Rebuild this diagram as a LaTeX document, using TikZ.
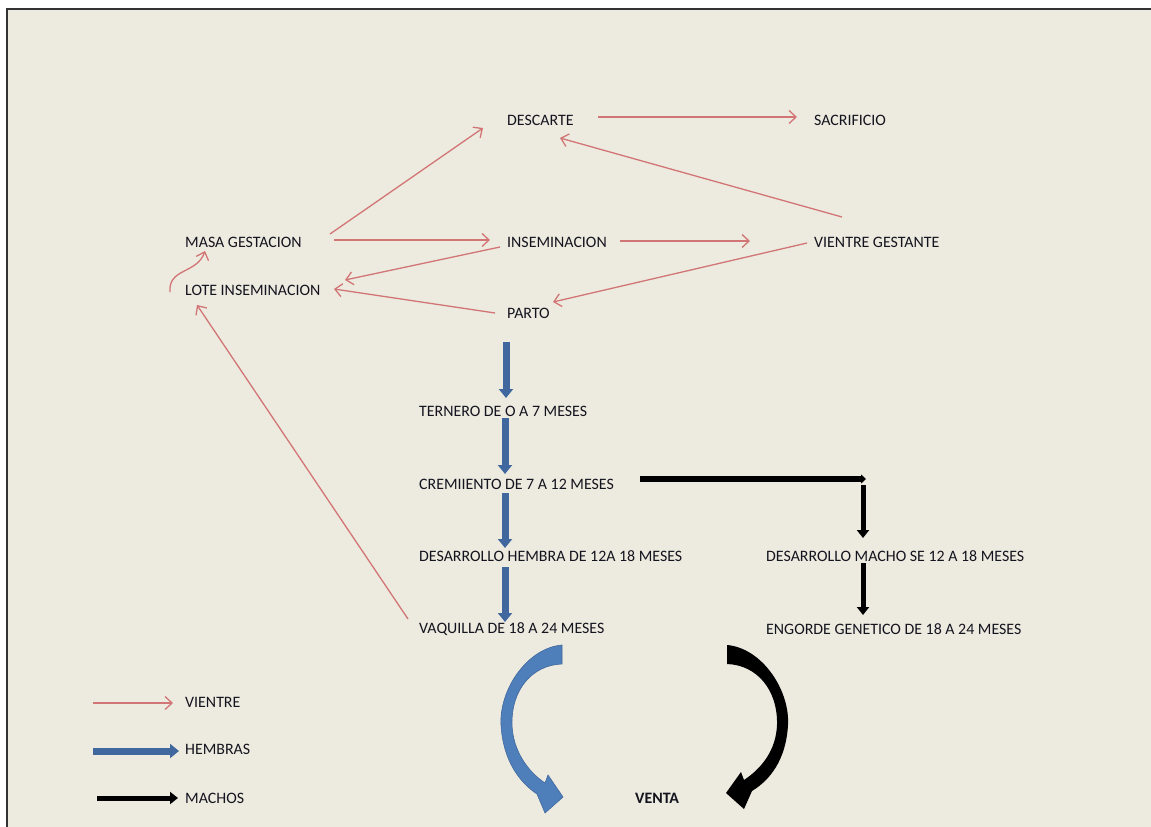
\documentclass[tikz,border=0pt]{standalone}
\usepackage{fontspec}
\setmainfont{Carlito}
\usetikzlibrary{arrows.meta,calc}
\definecolor{bg}{HTML}{EDEAE0}
\definecolor{vred}{HTML}{D27575}
\definecolor{hblue}{HTML}{41689E}
\definecolor{hblueL}{HTML}{4F7FBA}
\definecolor{txt}{HTML}{14141E}
\begin{document}
\begin{tikzpicture}[x=1pt,y=-1pt,
  lbl/.style={anchor=west,inner sep=0pt,font=\fontsize{15.9}{18}\selectfont,text=txt},
  vient/.style={draw=vred,line width=1.3pt,-{Straight Barb[length=7pt,width=13pt]}},
  hemb/.style={draw=hblue,line width=7pt,-{Triangle[length=9pt,width=14pt]}},
  mach/.style={draw=black,line width=5pt,-{Triangle[length=8pt,width=12pt]}},
  machs/.style={draw=black,line width=6pt,-{Triangle[length=5pt,width=9pt]}},
]
\useasboundingbox (0,0) rectangle (1151,827);
\fill[white] (0,0) rectangle (1151,827);
\fill[bg] (7,9) rectangle (1151,827);
\draw[line width=2pt,draw=black!80] (7,827) -- (7,9) -- (1151,9);

% nodes
\node[lbl] (desc)  at (507,120) {DESCARTE};
\node[lbl] (sacr)  at (814,120) {SACRIFICIO};
\node[lbl] (masa)  at (185,242) {MASA GESTACION};
\node[lbl] (insem) at (507,242) {INSEMINACION};
\node[lbl] (vg)    at (814,242) {VIENTRE GESTANTE};
\node[lbl] (lote)  at (185,290) {LOTE INSEMINACION};
\node[lbl] (parto) at (507,313) {PARTO};
\node[lbl] (tern)  at (419,411) {TERNERO DE O A 7 MESES};
\node[lbl] (crem)  at (419,484) {CREMIIENTO DE 7 A 12 MESES};
\node[lbl] (desh)  at (419,556) {DESARROLLO HEMBRA DE 12A 18 MESES};
\node[lbl] (vaq)   at (419,629) {VAQUILLA DE 18 A 24 MESES};
\node[lbl] (desm)  at (766,556) {DESARROLLO MACHO SE 12 A 18 MESES};
\node[lbl] (eng)   at (766,629) {ENGORDE GENETICO DE 18 A 24 MESES};
\node[lbl,font=\fontsize{15.9}{18}\selectfont\bfseries] (venta) at (635,798) {VENTA};
\node[lbl] (lv) at (185,702) {VIENTRE};
\node[lbl] (lh) at (185,749) {HEMBRAS};
\node[lbl] (lm) at (185,798) {MACHOS};

% red (vientre) connectors
\draw[vient] ($(desc.west)+(91,-3)$) -- ($(sacr.west)+(-17,-3)$);
\draw[vient] ($(masa.west)+(145,-8)$) -- ($(desc.west)+(-24,8)$);
\draw[vient] ($(masa.west)+(149,-2)$) -- ($(insem.west)+(-17,-2)$);
\draw[vient] ($(insem.west)+(113,-1)$) -- ($(vg.west)+(-64,-1)$);
\draw[vient] ($(vg.west)+(28,-25)$) -- ($(desc.west)+(53,18)$);
\draw[vient] ($(vg.west)+(-7,1)$) -- ($(parto.west)+(46,-11)$);
\draw[vient] ($(insem.west)+(-7,5)$) -- ($(lote.west)+(160,-10)$);
\draw[vient] ($(parto.west)+(-12,0)$) -- ($(lote.west)+(149,-1)$);
\draw[vient] ($(vaq.west)+(-11,-10)$) -- ($(lote.west)+(12,15)$);
\draw[vient] ($(lote.west)+(-15,2)$) .. controls ($(lote.west)+(-17,-22)$) and ($(masa.west)+(12,32)$) .. ($(masa.west)+(20,9)$);

% blue (hembras) connectors
\draw[hemb] ($(parto.west)+(-1,29)$) -- ($(tern.west)+(87,-13)$);
\draw[hemb] ($(tern.west)+(86,7)$) -- ($(crem.west)+(86,-10)$);
\draw[hemb] ($(crem.west)+(86,9)$) -- ($(desh.west)+(86,-8)$);
\draw[hemb] ($(desh.west)+(86,11)$) -- ($(vaq.west)+(86,-7)$);

% black (machos) connectors
\coordinate (corner) at ($(desm.west)+(100,-77)$);
\draw[machs] ($(crem.west)+(221,-5)$) -- (corner);
\draw[mach] ($(corner)+(-3,6)$) -- ($(desm.west)+(97,-18)$);
\draw[mach] ($(desm.west)+(97,7)$) -- ($(eng.west)+(97,-14)$);

% curved block arrows to VENTA
\fill[hblueL, draw=hblue, line width=0.6pt]
  (562,645) .. controls (527,648) and (499,690) .. (501,725)
  .. controls (503,760) and (519,782) .. (537,794)
  -- (545,813) -- (563,797) -- (548,775) -- (545,783)
  .. controls (527,771) and (513,750) .. (512,725)
  .. controls (511,690) and (532,665) .. (562,664) -- cycle;
\fill[black]
  (727,645) .. controls (762,648) and (790,690) .. (788,725)
  .. controls (786,760) and (770,780) .. (752,791)
  -- (744,809) -- (726,793) -- (741,772) -- (744,780)
  .. controls (762,768) and (776,750) .. (777,725)
  .. controls (778,690) and (757,665) .. (727,664) -- cycle;

% legend arrows
\coordinate (lvs) at ($(lv.west)+(-92,1)$);
\draw[vient] (lvs) -- ($(lv.west)+(-12,1)$);
\draw[hemb] ($(lh.west)+(-92,2)$) -- ($(lh.west)+(-6,2)$);
\draw[mach] ($(lm.west)+(-88,0)$) -- ($(lm.west)+(-7,0)$);
\end{tikzpicture}
\end{document}
